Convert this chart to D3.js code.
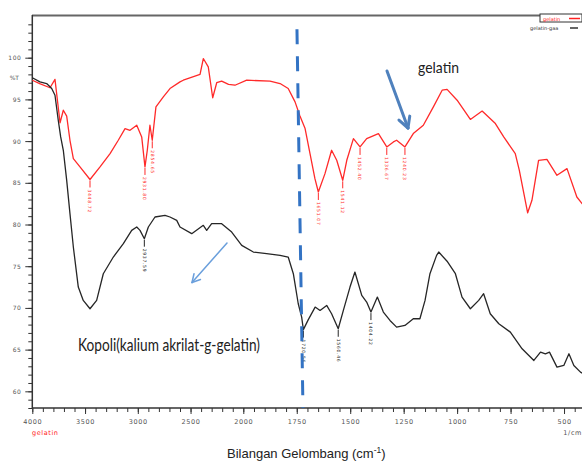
<!DOCTYPE html>
<html><head><meta charset="utf-8">
<script src="https://cdn.jsdelivr.net/npm/d3@7/dist/d3.min.js"></script>
<style>
html,body{margin:0;padding:0;background:#fff;}
svg{display:block;}
</style>
</head><body>
<svg id="chart" width="582" height="462"></svg>
<script>
// ---------- DATA ----------
const xMajorTicks = [4000, 3500, 3000, 2500, 2000, 1750, 1500, 1250, 1000, 750, 500];
const yMajorTicks = [60, 65, 70, 75, 80, 85, 90, 95, 100];

// gelatin (red)
const gelatinWn = [4000,3930,3832,3785,3737,3706,3674,3643,3611,3548,3453,3358,3263,3185,3121,3074,3010,2963,2932,2910,2885,2863,2828,2758,2695,2600,2569,2410,2379,2332,2290,2252,2205,2140,2079,1984,1875,1828,1790,1758,1735,1711,1688,1665,1649,1618,1587,1563,1535,1516,1485,1454,1423,1368,1329,1298,1283,1244,1205,1158,1111,1070,1047,1000,938,883,821,782,728,709,670,650,619,580,533,486,440,400];
const gelatinT  = [97.3,96.9,96.4,97.4,92.2,93.7,93.0,90.1,87.9,86.9,85.4,86.9,88.5,90.1,91.5,91.3,91.9,90.5,86.9,88.9,91.9,90.1,94.1,95.3,96.3,97.1,97.3,98.0,99.9,98.9,95.2,97.0,97.2,96.8,96.7,97.3,97.2,96.9,96.3,94.7,93.0,91.5,88.5,85.5,83.9,86.1,88.9,87.7,85.3,87.7,90.3,89.3,90.3,90.9,89.3,89.9,90.1,89.3,90.9,91.9,94.1,96.1,96.2,94.9,92.6,93.6,92.1,90.5,88.5,86.5,81.4,82.9,87.7,87.8,85.9,86.7,83.3,82.0];

// Kopoli(kalium akrilat-g-gelatin) (black)
const kopoliWn = [4000,3927,3864,3816,3785,3754,3731,3706,3674,3643,3611,3564,3517,3453,3390,3327,3232,3137,3058,3010,2979,2938,2900,2837,2742,2695,2631,2600,2489,2379,2347,2300,2205,2110,2015,1953,1891,1828,1790,1766,1743,1727,1719,1696,1664,1641,1610,1587,1556,1532,1501,1478,1446,1423,1403,1373,1345,1314,1283,1244,1205,1174,1150,1127,1096,1086,1047,1008,977,938,899,876,845,805,751,696,641,610,587,568,533,501,477,454,423,400];
const kopoliT  = [97.6,97.1,96.9,96.3,95.5,92.5,90.5,88.9,85.3,81.3,77.3,72.5,70.9,69.9,70.9,74.1,76.1,77.7,79.3,79.7,79.3,78.3,79.7,80.9,81.1,80.9,80.5,79.7,78.9,79.9,79.3,80.1,80.1,79.1,77.5,76.7,76.5,76.3,76.1,74.1,70.5,68.9,67.4,68.6,70.1,69.7,70.3,69.3,67.5,69.7,72.5,74.3,71.5,70.7,69.5,71.3,69.5,68.5,67.7,67.9,68.7,68.7,70.9,74.1,76.3,76.7,75.6,74.1,71.3,69.9,70.9,71.7,69.3,68.1,67.1,65.1,63.7,64.7,64.5,64.7,62.9,63.1,64.5,63.1,62.3,62.0];

// peak markers
const gelatinPeakWn = [3453, 2932, 2863, 1649, 1535, 1454, 1329, 1244];
const gelatinPeakT  = [85.4, 86.9, 90.1, 83.9, 85.3, 89.3, 89.3, 89.3];
const gelatinPeakLabels = ["3448.72","2931.80","2854.65","1651.07","1541.12","1452.40","1336.67","1240.23"];
const kopoliPeakWn = [2938, 1719, 1556, 1403];
const kopoliPeakT  = [78.3, 67.4, 67.5, 69.5];
const kopoliPeakLabels = ["2937.59","1720.56","1560.46","1404.22"];

// dashed reference line (carbonyl region)
const dashWn = [1749, 1721];
const dashT = [103.4, 58];

// ---------- SCALES ----------
const svg = d3.select("#chart");
const x = d3.scaleLinear().domain([4000, 2000, 400]).range([32.3, 243.3, 585.4]);
const y = d3.scaleLinear().domain([58, 105]).range([408, 16]);

svg.append("defs").append("clipPath").attr("id","plotclip")
  .append("rect").attr("x",32).attr("y",16).attr("width",560).attr("height",392);

// ---------- AXES ----------
const axisColor = "#333";
const labelColor = "#555";

// top border
svg.append("line").attr("x1",32).attr("x2",540).attr("y1",15.5).attr("y2",15.5)
  .attr("stroke","#666").attr("stroke-width",2);

// minor x ticks
const xMinor = d3.range(4000, 2000, -100).concat(d3.range(2000, 399, -50));
const gxMinor = svg.append("g").attr("transform","translate(0,408)")
  .call(d3.axisBottom(x).tickValues(xMinor).tickSize(4).tickFormat(""));
gxMinor.select(".domain").remove();
gxMinor.selectAll("line").attr("stroke",axisColor);

const gx = svg.append("g").attr("transform","translate(0,408)")
  .call(d3.axisBottom(x).tickValues(xMajorTicks).tickSize(6).tickPadding(5).tickFormat(d3.format("d")));
gx.select(".domain").remove();
gx.selectAll("line").attr("stroke",axisColor);
gx.selectAll("text").attr("font-family","DejaVu Sans").attr("font-size",6.5)
  .attr("letter-spacing",0.6).attr("fill",labelColor);

svg.append("line").attr("x1",32.3).attr("x2",582).attr("y1",408).attr("y2",408)
  .attr("stroke",axisColor).attr("stroke-width",1.5);

// y axis
const yMinor = d3.range(58, 105, 1);
const gyMinor = svg.append("g").attr("transform","translate(32.3,0)")
  .call(d3.axisLeft(y).tickValues(yMinor).tickSize(4).tickFormat(""));
gyMinor.select(".domain").remove();
gyMinor.selectAll("line").attr("stroke",axisColor);

const gy = svg.append("g").attr("transform","translate(32.3,0)")
  .call(d3.axisLeft(y).tickValues(yMajorTicks).tickSize(7).tickPadding(4).tickFormat(d3.format("d")));
gy.select(".domain").remove();
gy.selectAll("line").attr("stroke",axisColor);
gy.selectAll("text").attr("font-family","DejaVu Sans").attr("font-size",6)
  .attr("letter-spacing",0.5).attr("fill",labelColor);

svg.append("line").attr("x1",32.3).attr("x2",32.3).attr("y1",15).attr("y2",408)
  .attr("stroke",axisColor).attr("stroke-width",1.5);

svg.append("text").attr("x",19).attr("y",y(97.6)).attr("dy","0.35em")
  .attr("text-anchor","end").attr("font-family","DejaVu Sans").attr("font-size",6)
  .attr("fill",labelColor).text("%T");

svg.append("text").attr("x",32).attr("y",435).attr("font-family","DejaVu Sans")
  .attr("font-size",6.5).attr("letter-spacing",0.6).attr("fill","#ff2020").text("gelatin");
svg.append("text").attr("x",582).attr("y",435).attr("text-anchor","end").attr("font-family","DejaVu Sans")
  .attr("font-size",6.5).attr("letter-spacing",0.6).attr("fill",labelColor).text("1/cm");

// axis title
const title = svg.append("text").attr("x",227).attr("y",458)
  .attr("font-family","Liberation Sans, Arial, sans-serif").attr("font-size",13).attr("fill","#222");
title.append("tspan").text("Bilangan Gelombang (cm");
title.append("tspan").attr("font-size",8.5).attr("dy",-5).text("-1");
title.append("tspan").attr("dy",5).text(")");

// ---------- SERIES ----------
const line = d3.line().x(d => x(d[0])).y(d => y(d[1]));
const plot = svg.append("g").attr("clip-path","url(#plotclip)");

plot.append("path").datum(d3.zip(gelatinWn, gelatinT))
  .attr("d", line).attr("fill","none").attr("stroke","#ff2a2a").attr("stroke-width",1.3)
  .attr("stroke-linejoin","round");
plot.append("path").datum(d3.zip(kopoliWn, kopoliT))
  .attr("d", line).attr("fill","none").attr("stroke","#262626").attr("stroke-width",1.3)
  .attr("stroke-linejoin","round");

function peaks(wn, t, labels, color) {
  const g = plot.append("g");
  wn.forEach((w, i) => {
    const px = x(w), py = y(t[i]);
    g.append("line").attr("x1",px).attr("x2",px).attr("y1",py+1).attr("y2",py+8)
      .attr("stroke",color).attr("stroke-width",1);
    g.append("text").attr("transform",`translate(${px},${py+10}) rotate(90)`)
      .attr("dy","0.35em").attr("font-family","DejaVu Sans").attr("font-size",4.5)
      .attr("letter-spacing",0.7).attr("fill",color).text(labels[i]);
  });
}
peaks(gelatinPeakWn, gelatinPeakT, gelatinPeakLabels, "#ff2a2a");
peaks(kopoliPeakWn, kopoliPeakT, kopoliPeakLabels, "#262626");

// dashed line
svg.append("line")
  .attr("x1",x(dashWn[0])).attr("y1",y(dashT[0]))
  .attr("x2",x(dashWn[1])).attr("y2",y(dashT[1]))
  .attr("stroke","#3373c4").attr("stroke-width",3).attr("stroke-dasharray","15,12");

// ---------- LEGEND ----------
svg.append("rect").attr("x",540).attr("y",14).attr("width",42).attr("height",8)
  .attr("fill","#fff").attr("stroke","#333").attr("stroke-width",1);
svg.append("text").attr("x",543).attr("y",20.5).attr("font-family","DejaVu Sans")
  .attr("font-size",5).attr("fill","#ff2020").text("gelatin");
svg.append("line").attr("x1",569).attr("x2",580).attr("y1",18.5).attr("y2",18.5)
  .attr("stroke","#ff2020").attr("stroke-width",1.5);
svg.append("text").attr("x",530).attr("y",30).attr("font-family","DejaVu Sans")
  .attr("font-size",5).attr("fill","#333").text("gelatin-gaa");
svg.append("line").attr("x1",570).attr("x2",578).attr("y1",28).attr("y2",28)
  .attr("stroke","#333").attr("stroke-width",1.5);

// ---------- ANNOTATIONS ----------
svg.append("text").attr("x",418).attr("y",73)
  .attr("font-family","Liberation Sans Narrow, Lato, sans-serif").attr("font-size",15)
  .attr("textLength",41).attr("lengthAdjust","spacingAndGlyphs").attr("fill","#222").text("gelatin");
svg.append("text").attr("x",78).attr("y",351)
  .attr("font-family","Liberation Sans Narrow, Lato, sans-serif").attr("font-size",16.5)
  .attr("textLength",182).attr("lengthAdjust","spacingAndGlyphs").attr("fill","#222")
  .text("Kopoli(kalium  akrilat-g-gelatin)");

// arrows (open V heads)
function arrow(x1, y1, x2, y2, color, width, head) {
  const ang = Math.atan2(y2 - y1, x2 - x1);
  const g = svg.append("g").attr("stroke",color).attr("stroke-width",width)
    .attr("fill","none").attr("stroke-linecap","round");
  g.append("line").attr("x1",x1).attr("y1",y1).attr("x2",x2).attr("y2",y2);
  [-0.5, 0.5].forEach(d => {
    g.append("line").attr("x1",x2).attr("y1",y2)
      .attr("x2",x2 - head*Math.cos(ang + d)).attr("y2",y2 - head*Math.sin(ang + d));
  });
}
arrow(227, 243, 192, 282.5, "#6a9fdc", 1.5, 9);
arrow(387, 71, 408, 128, "#4f81bd", 3, 12);
</script>
</body></html>
